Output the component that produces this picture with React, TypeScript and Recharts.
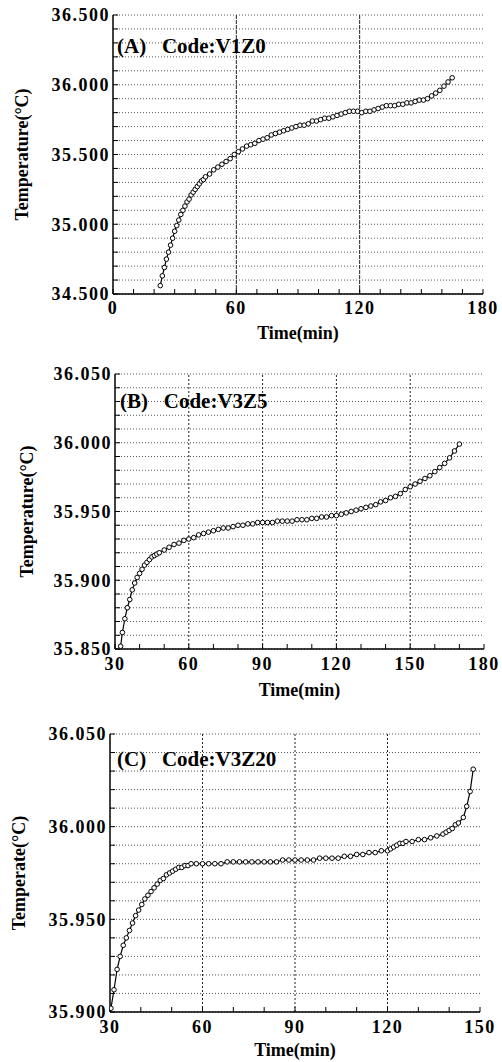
import { LineChart, Line, XAxis, YAxis, CartesianGrid, ReferenceLine } from "recharts";

const FONT = '"Liberation Serif", "Times New Roman", serif';

// (A) Code:V1Z0
const A_TIME = [
  23, 24, 25, 26, 27, 28, 29, 30, 31, 32, 33, 34, 35, 36, 37, 38, 39, 40, 41, 42, 43, 44, 45,
  47, 49, 51, 53, 55, 57, 59, 61, 63, 65, 67, 69, 71, 73, 75, 77, 79, 81, 83, 85, 87, 89,
  91, 93, 95, 97, 99, 101, 103, 105, 107, 109, 111, 113, 115, 117, 119, 121, 123, 125, 127,
  129, 131, 133, 135, 137, 139, 141, 143, 145, 147, 149, 151, 153, 155, 157, 159, 161, 163, 165,
];
const A_TEMP = [
  34.56, 34.63, 34.69, 34.75, 34.8, 34.85, 34.9, 34.95, 34.99, 35.03, 35.07, 35.1, 35.13, 35.16,
  35.18, 35.21, 35.23, 35.25, 35.27, 35.29, 35.31, 35.32, 35.34,
  35.36, 35.39, 35.41, 35.43, 35.45, 35.47, 35.5, 35.52, 35.54, 35.56, 35.57, 35.58, 35.6, 35.61,
  35.62, 35.64, 35.65, 35.66, 35.67, 35.68, 35.69, 35.7, 35.71, 35.71, 35.72, 35.74, 35.74, 35.75,
  35.76, 35.76, 35.77, 35.78, 35.79, 35.8, 35.81, 35.81, 35.81, 35.8, 35.81, 35.81, 35.82, 35.83,
  35.84, 35.85, 35.85, 35.85, 35.86, 35.86, 35.87, 35.87, 35.88, 35.89, 35.89, 35.9, 35.92, 35.94,
  35.96, 35.99, 36.02, 36.05,
];
const A_X_TICKS = [0, 10, 20, 30, 40, 50, 60, 70, 80, 90, 100, 110, 120, 130, 140, 150, 160, 170, 180];
const A_X_MAJOR = [0, 60, 120, 180];
const A_Y_TICKS = [
  34.5, 34.6, 34.7, 34.8, 34.9, 35.0, 35.1, 35.2, 35.3, 35.4, 35.5, 35.6, 35.7, 35.8, 35.9, 36.0,
  36.1, 36.2, 36.3, 36.4, 36.5,
];
const A_VGRID = [60, 120];

// (B) Code:V3Z5
const B_TIME = [
  32.3, 33, 34, 35, 36, 37, 38, 39, 40, 41, 42, 43, 44, 45, 46, 47, 48, 50, 52, 54, 56, 58, 60,
  62, 64, 66, 68, 70, 72, 74, 76, 78, 80, 82, 84, 86, 88, 90, 92, 94, 96, 98, 100, 102, 104, 106,
  108, 110, 112, 114, 116, 118, 120, 122, 124, 126, 128, 130, 132, 134, 136, 138, 140, 142, 144,
  146, 148, 150, 152, 154, 156, 158, 160, 162, 164, 166, 168, 170,
];
const B_TEMP = [
  35.852, 35.862, 35.872, 35.88, 35.886, 35.893, 35.898, 35.902, 35.905, 35.908, 35.911, 35.913,
  35.915, 35.917, 35.918, 35.919, 35.92, 35.922, 35.924, 35.926, 35.927, 35.929, 35.93, 35.931,
  35.933, 35.934, 35.935, 35.936, 35.937, 35.938, 35.938, 35.939, 35.94, 35.94, 35.941, 35.941,
  35.942, 35.942, 35.942, 35.942, 35.943, 35.943, 35.943, 35.943, 35.944, 35.944, 35.944, 35.945,
  35.945, 35.946, 35.946, 35.947, 35.947, 35.948, 35.949, 35.95, 35.951, 35.952, 35.953, 35.954,
  35.955, 35.957, 35.958, 35.96, 35.961, 35.963, 35.966, 35.968, 35.97, 35.972, 35.974, 35.976,
  35.979, 35.982, 35.985, 35.989, 35.994, 35.999,
];
const B_X_TICKS = [30, 40, 50, 60, 70, 80, 90, 100, 110, 120, 130, 140, 150, 160, 170, 180];
const B_X_MAJOR = [30, 60, 90, 120, 150, 180];
const B_Y_TICKS = [
  35.85, 35.86, 35.87, 35.88, 35.89, 35.9, 35.91, 35.92, 35.93, 35.94, 35.95, 35.96, 35.97, 35.98,
  35.99, 36.0, 36.01, 36.02, 36.03, 36.04, 36.05,
];
const B_VGRID = [60, 90, 120, 150];

// (C) Code:V3Z20
const C_TIME = [
  30.3, 31.3, 32.3, 33.3, 34.3, 35.3, 36.3, 37.3, 38.3, 39.3, 40.3, 41.3, 42.3, 43.3, 44.3, 45.3,
  46.3, 47.3, 48.3, 49.3, 50.3, 51.3, 52.3, 53.3, 54.3, 55.3, 56.3, 58, 60, 62, 64, 66, 68, 70,
  72, 74, 76, 78, 80, 82, 84, 86, 88, 90, 92, 94, 96, 98, 100, 102, 104, 106, 108, 110, 112, 114,
  116, 118, 120, 121, 122, 123, 124, 125, 126, 128, 130, 132, 134, 136, 138, 139, 140, 141, 142,
  143, 144.6, 145.7, 146.8, 147.8,
];
const C_TEMP = [
  35.902, 35.912, 35.923, 35.93, 35.936, 35.94, 35.944, 35.948, 35.952, 35.955, 35.958, 35.961,
  35.963, 35.965, 35.967, 35.969, 35.971, 35.972, 35.974, 35.975, 35.976, 35.977, 35.978, 35.978,
  35.979, 35.979, 35.98, 35.98, 35.98, 35.98, 35.98, 35.98, 35.981, 35.981, 35.981, 35.981,
  35.981, 35.981, 35.981, 35.981, 35.981, 35.982, 35.982, 35.982, 35.982, 35.982, 35.982, 35.983,
  35.983, 35.983, 35.983, 35.984, 35.984, 35.985, 35.985, 35.986, 35.986, 35.987, 35.987, 35.988,
  35.989, 35.99, 35.991, 35.991, 35.992, 35.992, 35.993, 35.993, 35.994, 35.995, 35.996, 35.997,
  35.998, 35.999, 36.001, 36.002, 36.005, 36.011, 36.019, 36.031,
];
const C_X_TICKS = [30, 40, 50, 60, 70, 80, 90, 100, 110, 120, 130, 140, 150];
const C_X_MAJOR = [30, 60, 90, 120, 150];
const C_Y_TICKS = [
  35.9, 35.91, 35.92, 35.93, 35.94, 35.95, 35.96, 35.97, 35.98, 35.99, 36.0, 36.01, 36.02, 36.03,
  36.04, 36.05,
];
const C_VGRID = [60, 90, 120];

type PanelProps = {
  top: number;
  height: number;
  plot: { left: number; right: number; top: number; bottom: number };
  times: number[];
  temps: number[];
  xTicks: number[];
  xMajor: number[];
  yTicks: number[];
  yStep: number;
  vGrid: number[];
  vDash: string;
  yLabel: string;
  yLabelX: number;
  xTickMargin: number;
  xLabelOffset: number;
  title: string;
  titleLeft: number;
  titleTop: number;
};

const tickStyle = {
  fontSize: 18,
  fontWeight: 700,
  fontFamily: FONT,
  fill: "#000",
  style: { letterSpacing: "1.5px" },
};

const labelStyle = {
  fontSize: 18,
  fontWeight: 700,
  fontFamily: FONT,
  fill: "#000",
  textAnchor: "middle" as const,
};

function Panel(p: PanelProps) {
  const data = p.times.map((t, i) => ({ t, temp: p.temps[i] }));
  const xDomain = [p.xTicks[0], p.xTicks[p.xTicks.length - 1]];
  const yDomain = [p.yTicks[0], p.yTicks[p.yTicks.length - 1]];
  const isMajorY = (v: number) => Math.abs(v / p.yStep - Math.round(v / p.yStep)) < 1e-6;

  return (
    <div style={{ position: "absolute", top: p.top, left: 0, width: 502, height: p.height }}>
      <LineChart
        width={502}
        height={p.height}
        data={data}
        margin={{ top: p.plot.top, right: 502 - p.plot.right, bottom: 0, left: 0 }}
      >
        <CartesianGrid vertical={false} stroke="#555" strokeDasharray="1 2" />
        {p.vGrid.map((v) => (
          <ReferenceLine key={v} x={v} stroke="#222" strokeDasharray={p.vDash} />
        ))}
        <XAxis
          dataKey="t"
          type="number"
          domain={xDomain}
          allowDataOverflow
          ticks={p.xTicks}
          interval={0}
          tickFormatter={(v: number) => (p.xMajor.includes(v) ? String(v) : "")}
          height={p.height - p.plot.bottom}
          tickSize={-5}
          tickMargin={p.xTickMargin}
          tick={tickStyle}
          axisLine={{ stroke: "#000", strokeWidth: 1.5 }}
          tickLine={{ stroke: "#000" }}
          label={{ value: "Time(min)", position: "insideTop", offset: p.xLabelOffset, style: labelStyle }}
        />
        <XAxis
          xAxisId="top"
          orientation="top"
          type="number"
          domain={xDomain}
          allowDataOverflow
          ticks={p.xTicks}
          interval={0}
          tickFormatter={() => ""}
          height={0}
          tickSize={-5}
          axisLine={{ stroke: "#000", strokeWidth: 1.5 }}
          tickLine={{ stroke: "#000" }}
        />
        <YAxis
          type="number"
          domain={yDomain}
          allowDataOverflow
          ticks={p.yTicks}
          interval={0}
          tickFormatter={(v: number) => (isMajorY(v) ? v.toFixed(3) : "")}
          width={p.plot.left}
          tickSize={-5}
          tickMargin={8}
          tick={tickStyle}
          axisLine={{ stroke: "#000", strokeWidth: 1.5 }}
          tickLine={{ stroke: "#000" }}
          label={{ value: p.yLabel, angle: -90, position: "insideLeft", offset: p.yLabelX, style: labelStyle }}
        />
        <YAxis
          yAxisId="right"
          orientation="right"
          type="number"
          domain={yDomain}
          allowDataOverflow
          ticks={p.yTicks}
          interval={0}
          tickFormatter={() => ""}
          width={0}
          tickSize={-5}
          axisLine={{ stroke: "#000", strokeWidth: 1.5 }}
          tickLine={{ stroke: "#000" }}
        />
        <Line
          dataKey="temp"
          type="linear"
          stroke="#000"
          strokeWidth={1.2}
          dot={{ r: 2.3, stroke: "#000", strokeWidth: 1, fill: "#fff" }}
          isAnimationActive={false}
        />
      </LineChart>
      <div
        style={{
          position: "absolute",
          left: p.titleLeft,
          top: p.titleTop,
          fontFamily: FONT,
          fontWeight: 700,
          fontSize: 21,
          lineHeight: "21px",
          whiteSpace: "pre",
          color: "#000",
        }}
      >
        {p.title}
      </div>
    </div>
  );
}

export default function App() {
  return (
    <div style={{ position: "absolute", top: 0, left: 0, width: 502, height: 1062, background: "#fff" }}>
      <Panel
        top={0}
        height={350}
        plot={{ left: 113, right: 483, top: 15, bottom: 294 }}
        times={A_TIME}
        temps={A_TEMP}
        xTicks={A_X_TICKS}
        xMajor={A_X_MAJOR}
        yTicks={A_Y_TICKS}
        yStep={0.5}
        vGrid={A_VGRID}
        vDash="4 1"
        yLabel="Temperature(°C)"
        yLabelX={22}
        xTickMargin={12}
        xLabelOffset={32}
        title="(A)   Code:V1Z0"
        titleLeft={117}
        titleTop={36}
      />
      <Panel
        top={350}
        height={355}
        plot={{ left: 115, right: 484, top: 24, bottom: 299 }}
        times={B_TIME}
        temps={B_TEMP}
        xTicks={B_X_TICKS}
        xMajor={B_X_MAJOR}
        yTicks={B_Y_TICKS}
        yStep={0.05}
        vGrid={B_VGRID}
        vDash="2 2"
        yLabel="Temperature(°C)"
        yLabelX={27}
        xTickMargin={13}
        xLabelOffset={34}
        title="(B)   Code:V3Z5"
        titleLeft={120}
        titleTop={41}
      />
      <Panel
        top={705}
        height={357}
        plot={{ left: 110, right: 480, top: 29, bottom: 307 }}
        times={C_TIME}
        temps={C_TEMP}
        xTicks={C_X_TICKS}
        xMajor={C_X_MAJOR}
        yTicks={C_Y_TICKS}
        yStep={0.05}
        vGrid={C_VGRID}
        vDash="2 2"
        yLabel="Temperate(°C)"
        yLabelX={19}
        xTickMargin={13}
        xLabelOffset={31}
        title="(C)   Code:V3Z20"
        titleLeft={117}
        titleTop={44}
      />
    </div>
  );
}
